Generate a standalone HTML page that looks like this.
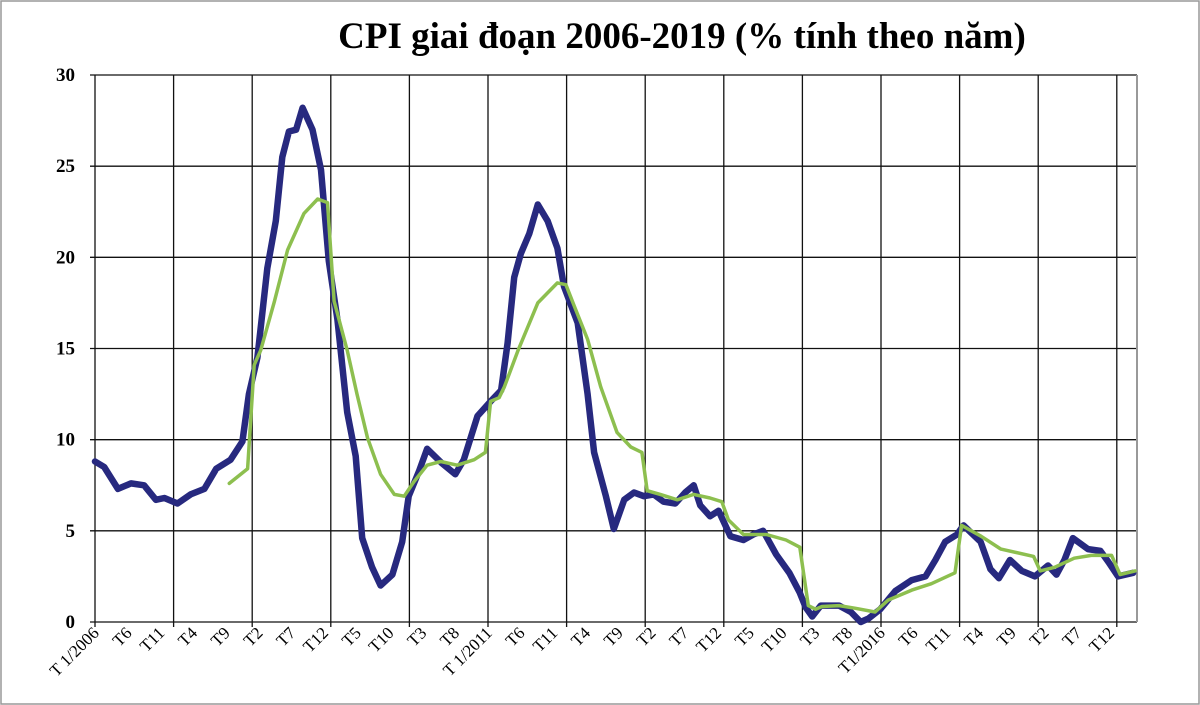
<!DOCTYPE html>
<html><head><meta charset="utf-8"><style>
body{margin:0;background:#fff;}
svg{display:block;font-family:"Liberation Serif",serif;}
</style></head><body>
<svg id="chart" width="1200" height="705" viewBox="0 0 1200 705" xmlns="http://www.w3.org/2000/svg">
<rect x="1" y="1" width="1198" height="703" fill="#fff" stroke="#999" stroke-width="1.5"/>
<text x="682" y="48" text-anchor="middle" font-size="37" font-weight="bold">CPI giai đoạn 2006-2019 (% tính theo năm)</text>
<g id="grid"></g><g id="axes"></g><g id="series"></g>
</svg>
<script>
const yTicks=[0,5,10,15,20,25,30];
const xLabels=["T 1/2006","T6","T11","T4","T9","T2","T7","T12","T5","T10","T3","T8","T 1/2011","T6","T11","T4","T9","T2","T7","T12","T5","T10","T3","T8","T1/2016","T6","T11","T4","T9","T2","T7","T12"];
const blueMonths=[0,1.4,3.5,5.5,7.5,9.3,10.6,12.6,14.6,16.7,18.5,20.7,22.5,23.5,24.8,26.3,27.6,28.6,29.6,30.7,31.7,33.2,34.5,35.7,37,38.5,39.8,40.8,42.3,43.6,45.4,46.9,47.9,49.5,50.7,53,55,56.3,58.4,60.4,62,63,64,65,66.3,67.6,69.1,70.6,71.6,73.7,75.2,76.2,78,79.2,80.8,82.3,83.8,85.3,86.8,88.6,90.1,91.4,92.4,93.9,95.2,97,99,100.5,102,104,106,107.6,108.5,109.5,110.8,113.6,115.4,116.9,118.1,119.9,122.2,124.7,126.8,128.3,129.8,131.6,132.6,135.2,136.7,138,139.7,141.5,143.5,145.5,146.8,148,149.3,151.6,153.5,154.7,156.2,158.5];
const blueValues=[8.8,8.5,7.3,7.6,7.5,6.7,6.8,6.5,7.0,7.3,8.4,8.9,9.9,12.5,14.5,19.4,22,25.5,26.9,27,28.2,27,24.8,19.8,16.6,11.5,9.1,4.6,3.0,2.0,2.6,4.4,6.9,8.3,9.5,8.7,8.1,8.9,11.3,12.1,12.7,15.3,18.9,20.2,21.3,22.9,22,20.5,18.4,16.4,12.5,9.3,6.9,5.1,6.7,7.1,6.9,7.0,6.6,6.5,7.1,7.5,6.4,5.8,6.1,4.7,4.5,4.8,5.0,3.7,2.7,1.6,0.8,0.3,0.9,0.9,0.55,0.0,0.2,0.7,1.7,2.3,2.5,3.4,4.4,4.8,5.3,4.4,2.9,2.4,3.4,2.8,2.5,3.1,2.6,3.4,4.6,4.0,3.9,3.3,2.5,2.7];
const greenMonths=[20.5,23.3,24.3,25.3,27.4,29.4,31.9,34,35.5,36.5,38.5,40,41.6,43.6,45.7,47.2,48.7,50.7,52.8,55.3,57.9,59.6,60.4,61.7,62.5,64.6,67.6,70.6,71.9,73.2,75.2,77.2,79.7,81.8,83.5,84.3,86.3,88.9,91.4,93.9,95.7,96.7,99,102.5,105.5,107.6,108.9,110,111,113.6,116.1,119.1,121.1,124.7,127.7,131.3,132.3,135.3,138.3,143.3,144.3,146.5,149.5,152.1,155.2,156.5,158.8];
const greenValues=[7.6,8.4,14.1,14.9,17.6,20.4,22.4,23.2,23.0,17.6,14.9,12.5,10.1,8.1,7.0,6.9,7.7,8.6,8.8,8.6,8.9,9.3,12.1,12.3,12.9,14.9,17.5,18.6,18.5,17.3,15.5,12.9,10.4,9.6,9.3,7.2,7.0,6.7,7.0,6.8,6.6,5.6,4.8,4.8,4.5,4.1,0.9,0.7,0.85,0.9,0.75,0.55,1.2,1.75,2.1,2.7,5.3,4.7,4.0,3.6,2.8,3.0,3.5,3.65,3.65,2.6,2.8];
const NS="http://www.w3.org/2000/svg";
const L=95,R=1137,T=75,B=622,PXM=6.55;
const xs=m=>L+m*PXM, ys=v=>B-(v/30)*(B-T);
function mk(tag,attrs,parent){const e=document.createElementNS(NS,tag);for(const k in attrs)e.setAttribute(k,attrs[k]);parent.appendChild(e);return e;}
const grid=document.getElementById('grid'),axes=document.getElementById('axes'),series=document.getElementById('series');
yTicks.forEach(v=>{
  const l=mk('line',{x1:L-5,x2:R,y1:ys(v),y2:ys(v),stroke:'#111','stroke-width':1.3},grid);
  
  
  const t=mk('text',{x:75,y:ys(v)+6,'text-anchor':'end','font-size':19,'font-weight':'bold'},axes);
  t.textContent=v;
  
  
});
for(let m=0;m<=156;m+=12){
  const l=mk('line',{x1:xs(m),x2:xs(m),y1:T,y2:B+5,stroke:'#111','stroke-width':1.3},grid);
  
  
}
const rb=mk('line',{x1:R,x2:R,y1:T,y2:B,stroke:'#999','stroke-width':2},grid);


xLabels.forEach((s,i)=>{
  const x=xs(i*5);
  const t=mk('text',{x:x+5,y:B+12,'text-anchor':'end','font-size':17,transform:`rotate(-45 ${x+5} ${B+12})`},axes);
  t.textContent=s;
  
  
});
function line(ms,vs,color,w,name){
  const p=mk('polyline',{points:ms.map((m,i)=>xs(m).toFixed(1)+','+ys(vs[i]).toFixed(1)).join(' '),fill:'none',stroke:color,'stroke-width':w,'stroke-linejoin':'round','stroke-linecap':'round'},series);
  
  
}
line(blueMonths,blueValues,'#27297f',6.5,'cpi-blue-line');
line(greenMonths,greenValues,'#8dbf4f',3.5,'cpi-green-line');
</script>
</body></html>
